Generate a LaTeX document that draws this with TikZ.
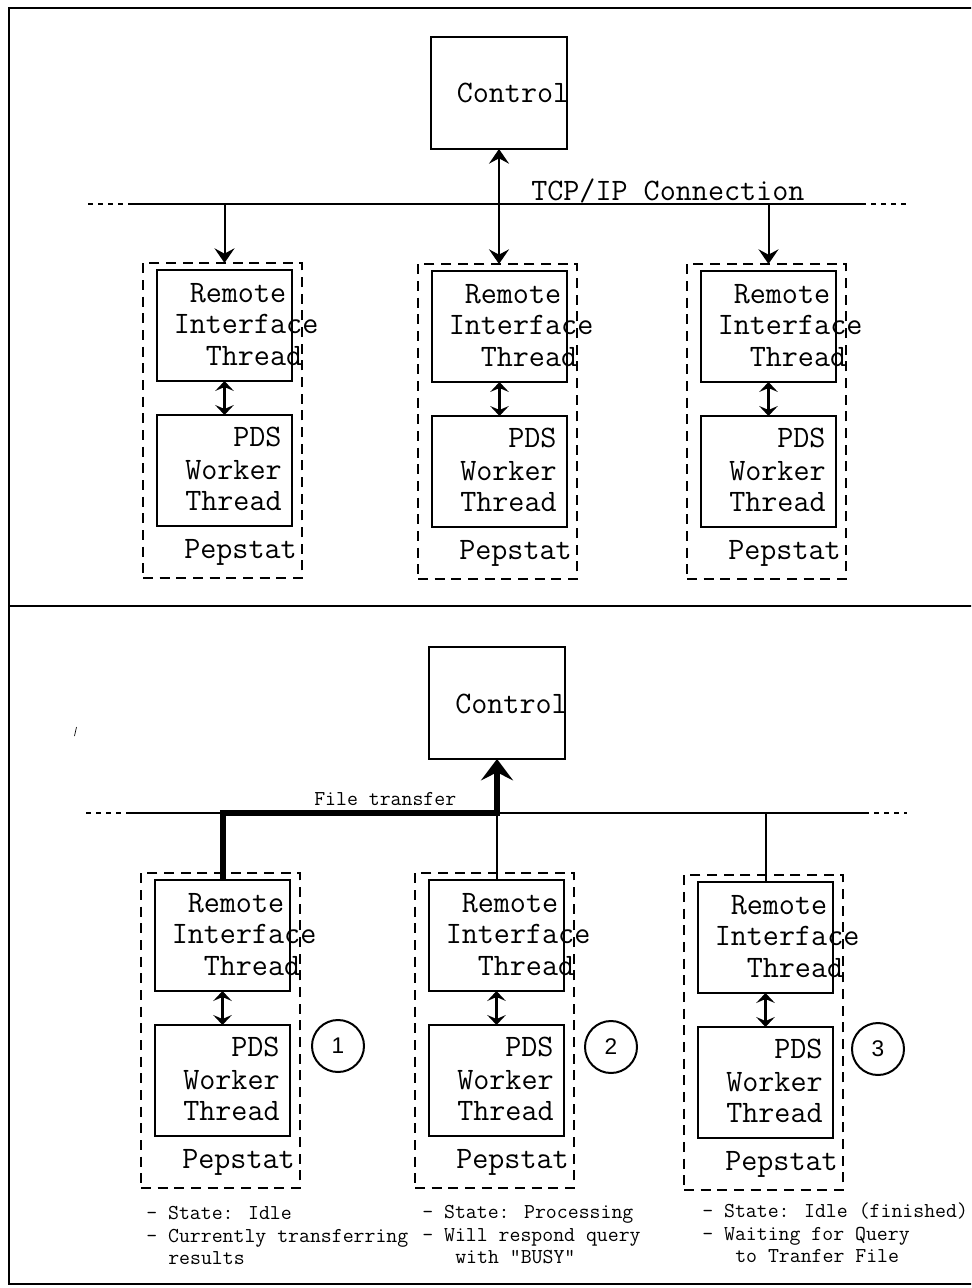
\documentclass[tikz,border=0pt]{standalone}
\usepackage{fontspec}
\newfontfamily\sansf{Liberation Sans}
\usetikzlibrary{arrows.meta}
\tikzset{
  frame/.style={line width=2pt},
  box/.style={draw, line width=1.1pt, minimum width=101.25pt, minimum height=83.25pt, inner sep=0pt, outer sep=0pt, anchor=north west},
  dbox/.style={draw, line width=2.2pt, dash pattern=on 7.5pt off 5pt, minimum width=119.25pt, minimum height=236.25pt, inner sep=0pt, outer sep=0pt, anchor=north west},
  ctlbox/.style={draw, line width=1.6pt, minimum width=102pt, minimum height=84pt, inner sep=0pt, outer sep=0pt, anchor=north west},
  big/.style={font=\ttfamily\fontsize{23.4}{26}\selectfont, anchor=base west, inner sep=0pt},
  small/.style={font=\ttfamily\fontsize{15.9}{18}\selectfont, anchor=base west, inner sep=0pt},
  circ/.style={circle, draw, line width=1.5pt, minimum size=39pt, inner sep=0pt, font=\sansf\fontsize{17}{17}\selectfont},
  bus/.style={line width=1.5pt},
  busdot/.style={line width=2pt, dash pattern=on 3.5pt off 4pt},
  arr/.style={line width=1.5pt, -{Stealth[length=11pt,width=15pt,inset=4pt]}},
  darr/.style={line width=1.5pt, {Stealth[length=11pt,width=15pt,inset=4pt]}-{Stealth[length=11pt,width=15pt,inset=4pt]}},
  dbl/.style={line width=1.6pt, {Stealth[length=7.5pt,width=14pt,inset=3pt]}-{Stealth[length=7.5pt,width=14pt,inset=3pt]}},
  thick/.style={line width=4.5pt, line join=miter, -{Stealth[length=16pt,width=24pt,inset=6pt]}},
  thin/.style={line width=1.5pt}
}
\newcommand\pepcol[3]{%
  \node[dbox] (d#1) at (#2-14,#3-7) {};
  \node[box] (r#1) at (#2,#3) {};
  \node[box] (p#1) at (#2,#3+145) {};
  \node[big] (ra#1) at (#2+32.5,#3+32) {Remote};
  \node[big] (rb#1) at (#2+16.5,#3+63.5) {Interface};
  \node[big] (rc#1) at (#2+48.5,#3+95) {Thread};
  \node[big] (pa#1) at (#2+76,#3+176.5) {PDS};
  \node[big] (pb#1) at (#2+28,#3+209) {Worker};
  \node[big] (pc#1) at (#2+28,#3+240.5) {Thread};
  \node[big] (pd#1) at (#2+27,#3+288) {Pepstat};
  \draw[dbl] (r#1.south) -- (p#1.north);
}
\begin{document}
\begin{tikzpicture}[x=0.75pt,y=-0.75pt]
\useasboundingbox (0,0) rectangle (971,1288);
\clip (0,0) rectangle (971,1288);
% frame
\draw[frame] (975,8) -- (9,8) -- (9,1284) -- (975,1284);
\draw[frame] (9,606) -- (975,606);

% ---------- top panel ----------
\node[ctlbox] (ctl) at (431,37) {};
\node[big] (ctltxt) at (456.5,103) {Control};
\coordinate (tbusL) at (88,204);
\coordinate (tbusA) at (130,204);
\coordinate (tbusB) at (861,204);
\coordinate (tbusR) at (909,204);
\draw[busdot] (tbusL) -- (tbusA);
\draw[bus] (tbusA) -- (tbusB);
\draw[busdot] (tbusB) -- (tbusR);
\node[big] (tcp) at (531,200) {TCP/IP Connection};

\pepcol{t1}{157}{270}
\pepcol{t2}{432}{271}
\pepcol{t3}{701}{271}

\draw[arr] (rt1.north |- tbusL) -- (rt1.north |- dt1.north);
\draw[arr] (rt3.north |- tbusL) -- (rt3.north |- dt3.north);
\draw[darr] (ctl.south) -- (ctl.south |- dt2.north);

% ---------- bottom panel ----------
\draw[line width=0.5pt] (76.5,727) -- (74.5,736);
\node[ctlbox] (ctlb) at (429,647) {};
\node[big] (ctlbtxt) at (455,713) {Control};
\coordinate (bbusL) at (86,813);
\coordinate (bbusA) at (129,813);
\coordinate (bbusB) at (864,813);
\coordinate (bbusR) at (907,813);
\draw[busdot] (bbusL) -- (bbusA);
\draw[bus] (bbusA) -- (bbusB);
\draw[busdot] (bbusB) -- (bbusR);
\node[small] (ft) at (314,805) {File transfer};

\pepcol{u1}{155}{880}
\pepcol{u2}{429}{880}
\pepcol{u3}{698}{882}

\draw[thick] (ru1.north) -- (ru1.north |- bbusL) -- (ctlb.south |- bbusL) -- (ctlb.south);
\draw[thin] (ru2.north |- bbusL) -- (ru2.north);
\draw[thin] (ru3.north |- bbusL) -- (ru3.north);

\node[circ] (c1) at (338,1046) {1};
\node[circ] (c2) at (611,1047) {2};
\node[circ] (c3) at (878,1049) {3};

\node[small] (s1a) at (146,1219) {- State: Idle};
\node[small] (s1b) at (146,1242) {- Currently transferring};
\node[small] (s1c) at (168,1264) {results};
\node[small] (s2a) at (422,1218) {- State: Processing};
\node[small] (s2b) at (422,1241) {- Will respond query};
\node[small] (s2c) at (455,1263) {with "BUSY"};
\node[small] (s3a) at (702,1217) {- State: Idle (finished)};
\node[small] (s3b) at (702,1240) {- Waiting for Query};
\node[small] (s3c) at (735,1262) {to Tranfer File};
\end{tikzpicture}
\end{document}
